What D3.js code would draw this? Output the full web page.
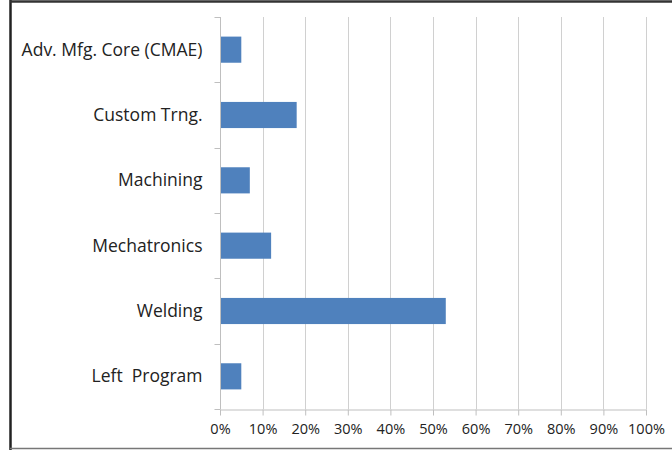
<!DOCTYPE html>
<html><head><meta charset="utf-8">
<script src="https://cdn.jsdelivr.net/npm/d3@7"></script>
<style>body{margin:0;background:#fff}svg{display:block}</style>
</head><body><svg id="c" width="672" height="450"></svg>
<script>
const categories = ["Adv. Mfg. Core (CMAE)","Custom Trng.","Machining","Mechatronics","Welding","Left  Program"];
const values = [5,18,7,12,53,5];
const tickValues = [0,10,20,30,40,50,60,70,80,90,100];

const svg = d3.select("#c");
const font = "'Open Sans', 'Liberation Sans', sans-serif";
// frame
svg.append("line").attr("x1",10.5).attr("x2",10.5).attr("y1",0).attr("y2",450).attr("stroke","#222").attr("stroke-width",2.5);
svg.append("line").attr("x1",10).attr("x2",672).attr("y1",1.5).attr("y2",1.5).attr("stroke","#333").attr("stroke-width",2.5);
svg.append("line").attr("x1",10).attr("x2",672).attr("y1",448.5).attr("y2",448.5).attr("stroke","#777").attr("stroke-width",1.5);

const x = d3.scaleLinear().domain([0,100]).range([220,646]);
const y = d3.scaleBand().domain(categories).range([17,409]).paddingInner(0.6).paddingOuter(0.3);
const yb = d3.scaleBand().domain(categories).range([17,409]);

// gridlines
svg.append("g").selectAll("line").data(tickValues.slice(1)).join("line")
  .attr("x1",d=>Math.round(x(d))+0.5).attr("x2",d=>Math.round(x(d))+0.5)
  .attr("y1",17).attr("y2",409).attr("stroke","#d0d0d0").attr("stroke-width",1);

// bars
svg.append("g").selectAll("rect").data(values).join("rect")
  .attr("x",x(0)).attr("y",(d,i)=>y(categories[i]))
  .attr("width",d=>x(d)-x(0)).attr("height",y.bandwidth())
  .attr("fill","#4f81bd");

// x axis
const xa = svg.append("g").attr("transform","translate(0,409.5)")
  .call(d3.axisBottom(x).tickValues(tickValues).tickFormat(d=>d+"%").tickSize(6).tickSizeOuter(0));
xa.select(".domain").attr("stroke","#bfbfbf");
xa.selectAll(".tick line").attr("stroke","#bfbfbf");
xa.selectAll("text").attr("font-family",font).attr("font-size",14.5).attr("fill","#222").attr("dy","1.1em");

// y axis
const ya = svg.append("g").attr("transform","translate(220.5,0)");
ya.append("line").attr("x1",0).attr("x2",0).attr("y1",17).attr("y2",409).attr("stroke","#bfbfbf");
const bounds = categories.map(c=>yb(c)).concat([409]);
ya.selectAll("line.t").data(bounds).join("line").attr("class","t")
  .attr("x1",-6).attr("x2",0).attr("y1",d=>Math.round(d)+0.5).attr("y2",d=>Math.round(d)+0.5).attr("stroke","#bfbfbf");
ya.selectAll("text").data(categories).join("text")
  .attr("x",-18).attr("y",d=>yb(d)+yb.bandwidth()/2).attr("dy","0.35em")
  .attr("text-anchor","end").attr("font-family",font).attr("font-size",17.5).attr("fill","#222")
  .style("white-space","pre").text(d=>d);
</script></body></html>
